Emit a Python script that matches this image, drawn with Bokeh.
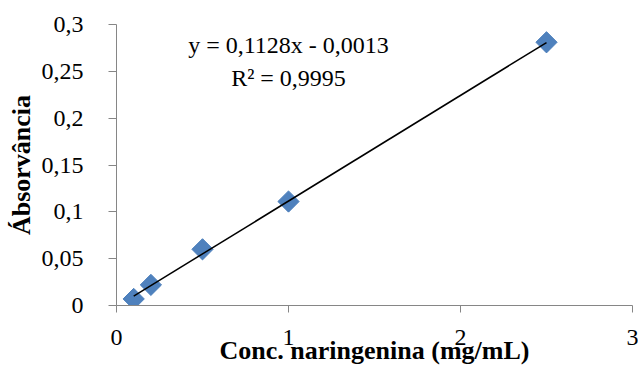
import numpy as np
from bokeh.plotting import figure
from bokeh.models import FixedTicker, Label, CustomJSTickFormatter
from bokeh.embed import file_html
from bokeh.resources import INLINE

# ---- data ----
conc = [0.1, 0.2, 0.5, 1.0, 2.5]            # mg/mL
absorb = [0.007, 0.022, 0.060, 0.111, 0.281]

slope = 0.1128
intercept = -0.0013
r_squared = 0.9995

x_ticks = [0, 1, 2, 3]
x_tick_labels = ["0", "1", "2", "3"]
y_ticks = [0, 0.05, 0.1, 0.15, 0.2, 0.25, 0.3]
y_tick_labels = ["0", "0,05", "0,1", "0,15", "0,2", "0,25", "0,3"]

x_title = "Conc. naringenina (mg/mL)"
y_title = "Ábsorvância"

def fmt(v, nd=4):
    return f"{abs(v):.{nd}f}".replace(".", ",")

eq_text = f"y = {fmt(slope)}x {'-' if intercept < 0 else '+'} {fmt(intercept)}"
r2_text = f"R² = {fmt(r_squared)}"

FONT = "Liberation Serif"
TICK_FONT = "Times New Roman"
AXIS_GRAY = "#868686"

LOOKUP = """
const i = tvals.findIndex(t => Math.abs(t - tick) < 1e-9);
return i >= 0 ? tlabels[i] : '';
"""

p = figure(width=638, height=367, x_range=(0, 3), y_range=(0, 0.3),
           output_backend="svg", toolbar_location=None,
           min_border_left=116, min_border_right=6,
           min_border_top=24, min_border_bottom=61)
p.outline_line_color = None
p.xgrid.visible = False
p.ygrid.visible = False

# markers (rotated squares = diamonds)
p.scatter(conc, absorb, marker="square", size=15, angle=np.pi / 4,
          fill_color="#4F81BD", line_color="#4A7EBB")

# linear trendline from the fitted coefficients
tx = np.array([min(conc), max(conc)])
ty = slope * tx + intercept
p.line(tx, ty, line_color="black", line_width=1.5)

# axes
for ax in (p.xaxis[0], p.yaxis[0]):
    ax.axis_line_color = AXIS_GRAY
    ax.major_tick_line_color = AXIS_GRAY
    ax.minor_tick_line_color = None
    ax.major_tick_in = 0
    ax.major_label_text_font = TICK_FONT
    ax.major_label_text_font_size = "24px"
    ax.major_label_text_color = "black"
    ax.axis_label_text_font = FONT
    ax.axis_label_text_font_size = "26px"
    ax.axis_label_text_font_style = "bold"
    ax.axis_label_text_color = "black"

p.xaxis.ticker = FixedTicker(ticks=x_ticks)
p.xaxis.formatter = CustomJSTickFormatter(args=dict(tvals=x_ticks, tlabels=x_tick_labels), code=LOOKUP)
p.xaxis.major_tick_out = 7
p.xaxis.major_label_standoff = 17
p.xaxis.axis_label = x_title
p.xaxis.axis_label_standoff = -12

p.yaxis.ticker = FixedTicker(ticks=y_ticks)
p.yaxis.formatter = CustomJSTickFormatter(args=dict(tvals=y_ticks, tlabels=y_tick_labels), code=LOOKUP)
p.yaxis.major_tick_out = 8
p.yaxis.major_label_standoff = 25
p.yaxis.axis_label = y_title
p.yaxis.axis_label_standoff = 3

# equation labels
p.add_layout(Label(x=1.0, y=0.2782, text=eq_text, text_font=FONT, text_font_size="24px",
                   text_align="center", text_baseline="middle", text_color="black"))
p.add_layout(Label(x=1.0, y=0.2426, text=r2_text, text_font=FONT, text_font_size="24px",
                   text_align="center", text_baseline="middle", text_color="black"))

open("out.html", "w").write(file_html(p, INLINE))
